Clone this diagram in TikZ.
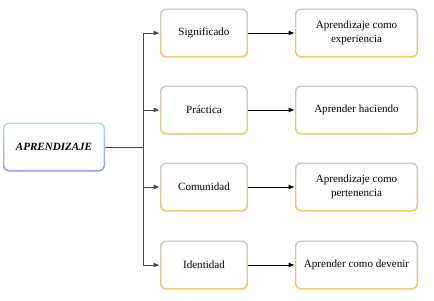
\documentclass[tikz,border=0pt]{standalone}
\usepackage{fontspec}
\setmainfont{Liberation Serif}
\usetikzlibrary{arrows.meta}
\definecolor{gtop}{RGB}{200,200,200}
\definecolor{gbot}{RGB}{240,196,96}
\definecolor{ctop}{RGB}{160,226,226}
\definecolor{cbot}{RGB}{150,150,238}
\definecolor{lnc}{RGB}{70,70,70}
\tikzset{
  boxtext/.style={inner sep=0pt, align=center, font=\fontsize{8.3}{10.5}\selectfont},
  conn/.style={draw=lnc, line width=0.6pt},
  arr/.style={conn, -{Latex[length=4.5pt,width=3.6pt]}},
}
% \gbox{name}{cx}{cy}{w}{h}{text}{top}{bottom}
\newcommand{\gbox}[8]{%
  \shade[top color=#7, bottom color=#8, rounded corners=4.5]
    ({#2-#4/2},{#3-#5/2}) rectangle ({#2+#4/2},{#3+#5/2});
  \fill[white, rounded corners=3.8]
    ({#2-#4/2+1.3},{#3-#5/2+1.3}) rectangle ({#2+#4/2-1.3},{#3+#5/2-1.3});
  \node[boxtext, minimum width=#4*0.75pt, minimum height=#5*0.75pt] (#1) at (#2,#3) {#6};
}
\begin{document}
\begin{tikzpicture}[x=0.75pt, y=-0.75pt]
\useasboundingbox (0,0) rectangle (434,300);
\gbox{A}{54}{147}{102}{49}{\textbf{\textit{APRENDIZAJE}}}{ctop}{cbot}
\gbox{m1}{204}{33}{88}{49}{Significado}{gtop}{gbot}
\gbox{m2}{204}{110}{88}{49}{Práctica}{gtop}{gbot}
\gbox{m3}{204}{187}{88}{49}{Comunidad}{gtop}{gbot}
\gbox{m4}{204}{265}{88}{49}{Identidad}{gtop}{gbot}
\gbox{r1}{356.5}{33}{123}{49}{Aprendizaje como\\experiencia}{gtop}{gbot}
\gbox{r2}{356.5}{110}{123}{49}{Aprender haciendo}{gtop}{gbot}
\gbox{r3}{356.5}{187}{123}{49}{Aprendizaje como\\pertenencia}{gtop}{gbot}
\gbox{r4}{356.5}{265}{123}{49}{Aprender como devenir}{gtop}{gbot}
\coordinate (t) at (143,147);
\draw[conn] (A.east) -- (t);
\draw[arr] (t) |- (m1.west);
\draw[arr] (t) |- (m2.west);
\draw[arr] (t) |- (m3.west);
\draw[arr] (t) |- (m4.west);
\draw[arr, draw=black] (m1.east) -- (r1.west);
\draw[arr, draw=black] (m2.east) -- (r2.west);
\draw[arr, draw=black] (m3.east) -- (r3.west);
\draw[arr, draw=black] (m4.east) -- (r4.west);
\end{tikzpicture}
\end{document}
